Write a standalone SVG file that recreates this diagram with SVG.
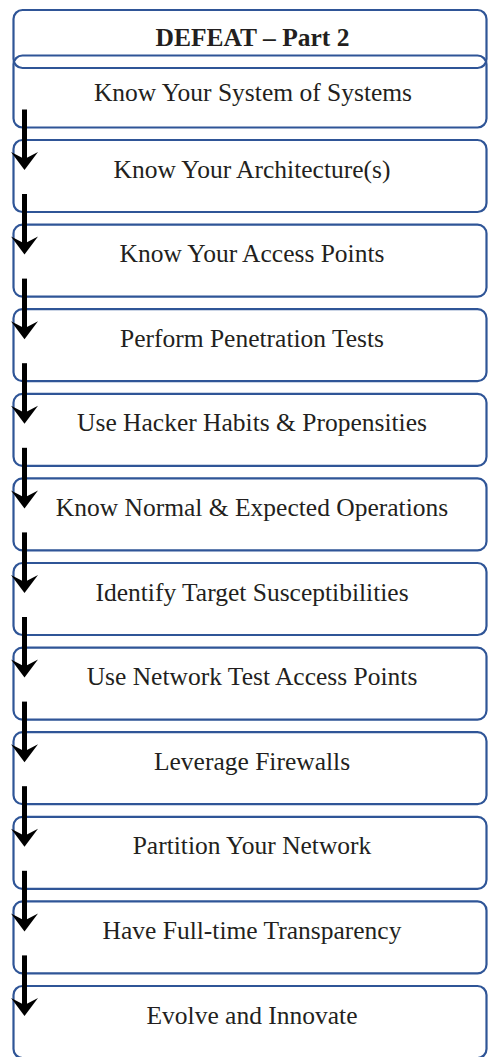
<svg xmlns="http://www.w3.org/2000/svg" width="489" height="1057" viewBox="0 0 489 1057">
<style>
.box{fill:none;stroke:#2F5597;stroke-width:2.2}
.t{font-family:"Liberation Serif","Times New Roman",serif;font-size:25.5px;fill:#231F20;text-anchor:middle}
.h{font-weight:bold}
.arr{stroke:#000;stroke-width:5;fill:none}
.head{fill:#000}
</style>
<defs>
<path id="ah" class="head" d="M-13.5,-18 L0,0 L13.5,-18 L0,-11 Z"/>
</defs>
<rect width="489" height="1057" fill="#fff"/>
<g id="header"><rect class="box" x="13.5" y="10" width="473" height="58" rx="9"/><text class="t h" x="252.5" y="45.5">DEFEAT – Part 2</text></g>
<g id="n1"><rect class="box" x="13.5" y="55.5" width="473" height="72" rx="9"/><text class="t" x="253" y="101">Know Your System of Systems</text></g>
<g id="n2"><rect class="box" x="13.5" y="140" width="473" height="72" rx="9"/><text class="t" x="252" y="177.5">Know Your Architecture(s)</text></g>
<g id="n3"><rect class="box" x="13.5" y="224.6" width="473" height="72" rx="9"/><text class="t" x="252" y="262.1">Know Your Access Points</text></g>
<g id="n4"><rect class="box" x="13.5" y="309.2" width="473" height="72" rx="9"/><text class="t" x="252" y="346.7">Perform Penetration Tests</text></g>
<g id="n5"><rect class="box" x="13.5" y="393.8" width="473" height="72" rx="9"/><text class="t" x="252" y="431.3">Use Hacker Habits &amp; Propensities</text></g>
<g id="n6"><rect class="box" x="13.5" y="478.4" width="473" height="72" rx="9"/><text class="t" x="252" y="515.9">Know Normal &amp; Expected Operations</text></g>
<g id="n7"><rect class="box" x="13.5" y="563" width="473" height="72" rx="9"/><text class="t" x="252" y="600.5">Identify Target Susceptibilities</text></g>
<g id="n8"><rect class="box" x="13.5" y="647.6" width="473" height="72" rx="9"/><text class="t" x="252" y="685.1">Use Network Test Access Points</text></g>
<g id="n9"><rect class="box" x="13.5" y="732.2" width="473" height="72" rx="9"/><text class="t" x="252" y="769.7">Leverage Firewalls</text></g>
<g id="n10"><rect class="box" x="13.5" y="816.8" width="473" height="72" rx="9"/><text class="t" x="252" y="854.3">Partition Your Network</text></g>
<g id="n11"><rect class="box" x="13.5" y="901.4" width="473" height="72" rx="9"/><text class="t" x="252" y="938.9">Have Full-time Transparency</text></g>
<g id="n12"><rect class="box" x="13.5" y="986" width="473" height="72" rx="9"/><text class="t" x="252" y="1024">Evolve and Innovate</text></g>
<g id="connectors">
<path class="arr" d="M24.5,109.5V160"/><use href="#ah" x="24.5" y="170"/>
<path class="arr" d="M24.5,194V244.6"/><use href="#ah" x="24.5" y="254.6"/>
<path class="arr" d="M24.5,278.6V329.2"/><use href="#ah" x="24.5" y="339.2"/>
<path class="arr" d="M24.5,363.2V413.8"/><use href="#ah" x="24.5" y="423.8"/>
<path class="arr" d="M24.5,447.8V498.4"/><use href="#ah" x="24.5" y="508.4"/>
<path class="arr" d="M24.5,532.4V583"/><use href="#ah" x="24.5" y="593"/>
<path class="arr" d="M24.5,617V667.6"/><use href="#ah" x="24.5" y="677.6"/>
<path class="arr" d="M24.5,701.6V752.2"/><use href="#ah" x="24.5" y="762.2"/>
<path class="arr" d="M24.5,786.2V836.8"/><use href="#ah" x="24.5" y="846.8"/>
<path class="arr" d="M24.5,870.8V921.4"/><use href="#ah" x="24.5" y="931.4"/>
<path class="arr" d="M24.5,955.4V1006"/><use href="#ah" x="24.5" y="1016"/>
</g>
</svg>
